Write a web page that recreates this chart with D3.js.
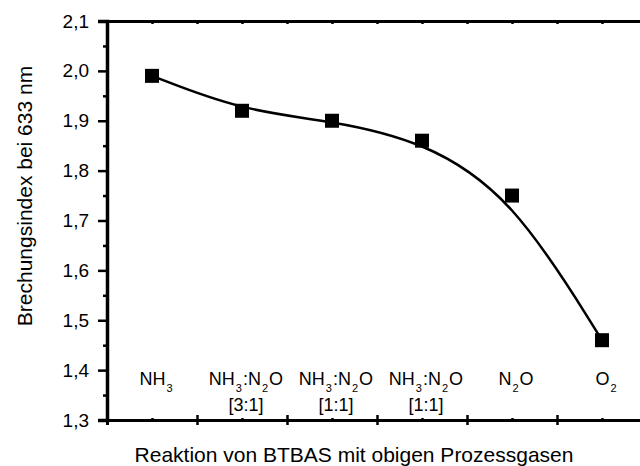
<!DOCTYPE html>
<meta charset="utf-8">
<title>Brechungsindex</title>
<style>
  body { margin: 0; background: #fff; }
  text { font-family: "Liberation Sans", Arial, sans-serif; fill: #000; }
</style>
<body>
<div id="chart"></div>
<script src="https://d3js.org/d3.v7.min.js"></script>
<script>
// data
var gases = ["NH_3", "NH_3:N_2O", "NH_3:N_2O", "NH_3:N_2O", "N_2O", "O_2"];
var ratios = ["", "[3:1]", "[1:1]", "[1:1]", "", ""];
var refIndex = [1.99, 1.92, 1.90, 1.86, 1.75, 1.46];
var yTicks = [1.3, 1.4, 1.5, 1.6, 1.7, 1.8, 1.9, 2.0, 2.1];

var width = 640, height = 466;

var svg = d3.select("#chart").append("svg")
    .attr("width", width)
    .attr("height", height);

// x: one unit per category, categories sit in the middle of each unit
var x = d3.scaleLinear().domain([0, gases.length]).range([107, 647]);
var y = d3.scaleLinear().domain([1.3, 2.1]).range([420, 21]);

var comma = d3.formatLocale({decimal: ",", thousands: ".", grouping: [3], currency: ["", ""]}).format(".1f");

var majorX = d3.range(0, gases.length + 1);
var minorX = d3.range(0.5, gases.length, 1);
var minorY = d3.range(1.35, 2.1, 0.1);

// top axis, small inward ticks every half unit
svg.append("g")
    .attr("transform", "translate(0," + y(2.1) + ")")
    .call(d3.axisTop(x).tickValues(d3.range(0, gases.length + 0.5, 0.5)).tickSize(-3).tickFormat(""));

// bottom axis: major ticks cross the line, minor ticks tiny
var bottomAxis = svg.append("g")
    .attr("transform", "translate(0," + y(1.3) + ")")
    .call(d3.axisBottom(x).tickValues(majorX).tickSize(5).tickFormat(""));
bottomAxis.selectAll(".tick line").attr("y1", -5);
svg.append("g")
    .attr("transform", "translate(0," + y(1.3) + ")")
    .call(d3.axisBottom(x).tickValues(minorX).tickSize(-2).tickFormat(""))
    .select(".domain").remove();

// left axis
var leftAxis = svg.append("g")
    .attr("transform", "translate(" + x(0) + ",0)")
    .call(d3.axisLeft(y).tickValues(yTicks).tickSize(9).tickPadding(9).tickFormat(comma));
svg.append("g")
    .attr("transform", "translate(" + x(0) + ",0)")
    .call(d3.axisLeft(y).tickValues(minorY).tickSize(4).tickFormat(""))
    .select(".domain").remove();

svg.selectAll(".domain").attr("stroke", "#000").attr("stroke-width", 3);
leftAxis.select(".domain").attr("stroke-width", 3.5);
svg.selectAll(".tick line").attr("stroke", "#000").attr("stroke-width", 2.5);
leftAxis.selectAll(".tick text")
    .attr("font-size", 19)
    .attr("font-family", "Liberation Sans, Arial, sans-serif")
    .attr("fill", "#000");

// smoothed line through the points
var line = d3.line()
    .x(function(d, i) { return x(i + 0.5); })
    .y(function(d) { return y(d); })
    .curve(d3.curveBasis);

svg.append("path")
    .datum(refIndex)
    .attr("d", line)
    .attr("fill", "none")
    .attr("stroke", "#000")
    .attr("stroke-width", 2.5);

svg.selectAll("rect.pt")
    .data(refIndex)
  .enter().append("rect")
    .attr("class", "pt")
    .attr("x", function(d, i) { return x(i + 0.5) - 7; })
    .attr("y", function(d) { return y(d) - 7; })
    .attr("width", 14)
    .attr("height", 14)
    .attr("fill", "#000");

// category labels with subscripts
gases.forEach(function(g, i) {
  var t = svg.append("text")
      .attr("x", x(i + 0.5) + 4)
      .attr("y", 385)
      .attr("text-anchor", "middle")
      .attr("font-size", 18);
  var parts = g.split(/_(\d)/);
  var shifted = false;
  parts.forEach(function(p, j) {
    if (p === "") return;
    var sub = j % 2 === 1;
    var ts = t.append("tspan").text(p);
    if (sub) {
      ts.attr("font-size", 11).attr("dy", 7).attr("dx", 1);
      shifted = true;
    } else if (shifted) {
      ts.attr("dy", -7).attr("dx", 1);
      shifted = false;
    }
  });
  if (ratios[i]) {
    svg.append("text")
        .attr("x", x(i + 0.5) + 4)
        .attr("y", 411)
        .attr("text-anchor", "middle")
        .attr("font-size", 18)
        .text(ratios[i]);
  }
});

// axis titles
svg.append("text")
    .attr("x", 354)
    .attr("y", 462)
    .attr("text-anchor", "middle")
    .attr("font-size", 21)
    .text("Reaktion von BTBAS mit obigen Prozessgasen");

svg.append("text")
    .attr("transform", "translate(32,196) rotate(-90)")
    .attr("text-anchor", "middle")
    .attr("font-size", 21)
    .text("Brechungsindex bei 633 nm");
</script>
</body>
